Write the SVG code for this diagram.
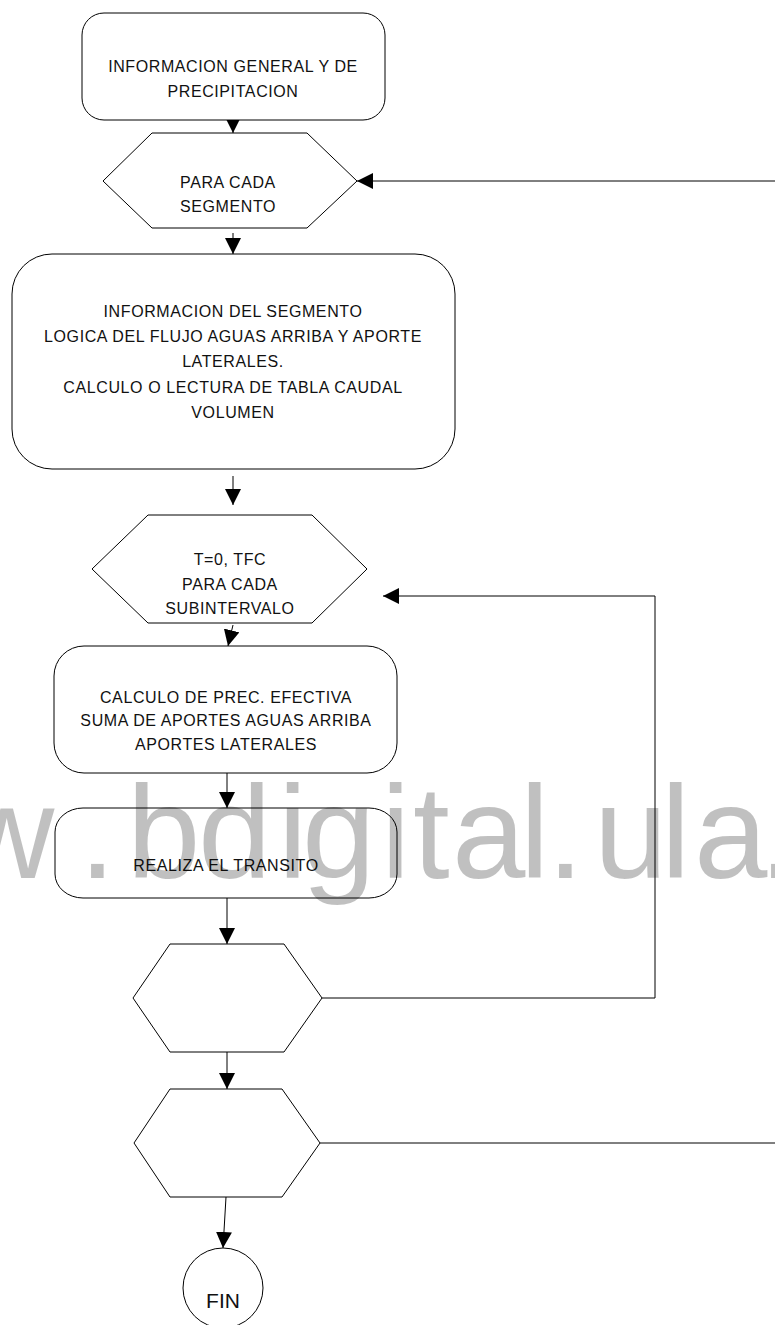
<svg xmlns="http://www.w3.org/2000/svg" width="775" height="1325" viewBox="0 0 775 1325">
  <defs>
    <style>
      .shape { fill: #fff; stroke: #000; stroke-width: 1; }
      .wire { fill: none; stroke: #000; stroke-width: 1; }
      .lbl { font-family: "Liberation Sans", Arial, sans-serif; font-size: 16px; fill: #111; text-anchor: middle; letter-spacing: 0.6px; }
      .mark { font-family: "Liberation Sans", Arial, sans-serif; font-size: 132px; fill: #000; fill-opacity: 0.247; }
    </style>
    <marker id="head" viewBox="0 0 16 16" refX="16" refY="8" markerWidth="16" markerHeight="16" markerUnits="userSpaceOnUse" orient="auto">
      <path d="M0,0 L16,8 L0,16 Z" fill="#000"/>
    </marker>
  </defs>

  <rect width="775" height="1325" fill="#fff"/>

  <!-- connectors -->
  <g id="connectors">
    <line class="wire" x1="233" y1="118" x2="233" y2="133" marker-end="url(#head)"/>
    <line class="wire" x1="233" y1="233" x2="233" y2="254" marker-end="url(#head)"/>
    <line class="wire" x1="233" y1="476" x2="233" y2="505" marker-end="url(#head)"/>
    <line class="wire" x1="233" y1="625" x2="228" y2="646" marker-end="url(#head)"/>
    <line class="wire" x1="227" y1="773" x2="227" y2="808" marker-end="url(#head)"/>
    <line class="wire" x1="227" y1="898" x2="227" y2="944" marker-end="url(#head)"/>
    <line class="wire" x1="227" y1="1052" x2="227" y2="1089" marker-end="url(#head)"/>
    <line class="wire" x1="226" y1="1197" x2="223" y2="1248" marker-end="url(#head)"/>
    <!-- return to the segment loop -->
    <line class="wire" x1="775" y1="181" x2="357" y2="181" marker-end="url(#head)"/>
    <!-- return to the subinterval loop -->
    <polyline class="wire" points="322,998 655,998 655,596 383,596" marker-end="url(#head)"/>
    <!-- exit of the segment test -->
    <line class="wire" x1="320" y1="1143" x2="775" y2="1143"/>
  </g>

  <!-- nodes -->
  <g id="n-general">
    <rect class="shape" x="82" y="13" width="303" height="107" rx="22" ry="22"/>
    <text class="lbl" x="233" y="72">INFORMACION GENERAL Y DE</text>
    <text class="lbl" x="233" y="97">PRECIPITACION</text>
  </g>

  <g id="n-segmento">
    <polygon class="shape" points="103,181 152,133 307,133 357,181 307,228 152,228"/>
    <text class="lbl" x="228" y="188">PARA CADA</text>
    <text class="lbl" x="228" y="212">SEGMENTO</text>
  </g>

  <g id="n-info-segmento">
    <rect class="shape" x="12" y="254" width="443" height="215" rx="40" ry="40"/>
    <text class="lbl" x="233" y="317">INFORMACION DEL SEGMENTO</text>
    <text class="lbl" x="233" y="342">LOGICA DEL FLUJO AGUAS ARRIBA Y APORTE</text>
    <text class="lbl" x="233" y="367">LATERALES.</text>
    <text class="lbl" x="233" y="393">CALCULO O LECTURA DE TABLA CAUDAL</text>
    <text class="lbl" x="233" y="418">VOLUMEN</text>
  </g>

  <g id="n-subintervalo">
    <polygon class="shape" points="92,569 148,515 312,515 367,569 312,623 148,623"/>
    <text class="lbl" x="230" y="565">T=0, TFC</text>
    <text class="lbl" x="230" y="590">PARA CADA</text>
    <text class="lbl" x="230" y="614">SUBINTERVALO</text>
  </g>

  <g id="n-precipitacion">
    <rect class="shape" x="54" y="646" width="343" height="127" rx="30" ry="30"/>
    <text class="lbl" x="226" y="703">CALCULO DE PREC. EFECTIVA</text>
    <text class="lbl" x="226" y="726">SUMA DE APORTES AGUAS ARRIBA</text>
    <text class="lbl" x="226" y="750">APORTES LATERALES</text>
  </g>

  <g id="n-transito">
    <rect class="shape" x="55" y="808" width="342" height="90" rx="28" ry="24"/>
    <text class="lbl" x="226" y="871">REALIZA EL TRANSITO</text>
  </g>

  <g id="n-fin-subintervalo">
    <polygon class="shape" points="133,998 170,944 284,944 322,998 284,1052 170,1052"/>
  </g>

  <g id="n-fin-segmento">
    <polygon class="shape" points="134,1143 170,1089 282,1089 320,1143 282,1197 170,1197"/>
  </g>

  <g id="n-fin">
    <circle class="shape" cx="223" cy="1288" r="40"/>
    <text class="lbl" x="223" y="1308" style="font-size:21px;letter-spacing:0">FIN</text>
  </g>

  <!-- watermark -->
  <text class="mark" y="878" x="-41 79 127 198 278 302 381 413 452 520 547 594 661 694 759">w.bdigital.ula.</text>
</svg>
